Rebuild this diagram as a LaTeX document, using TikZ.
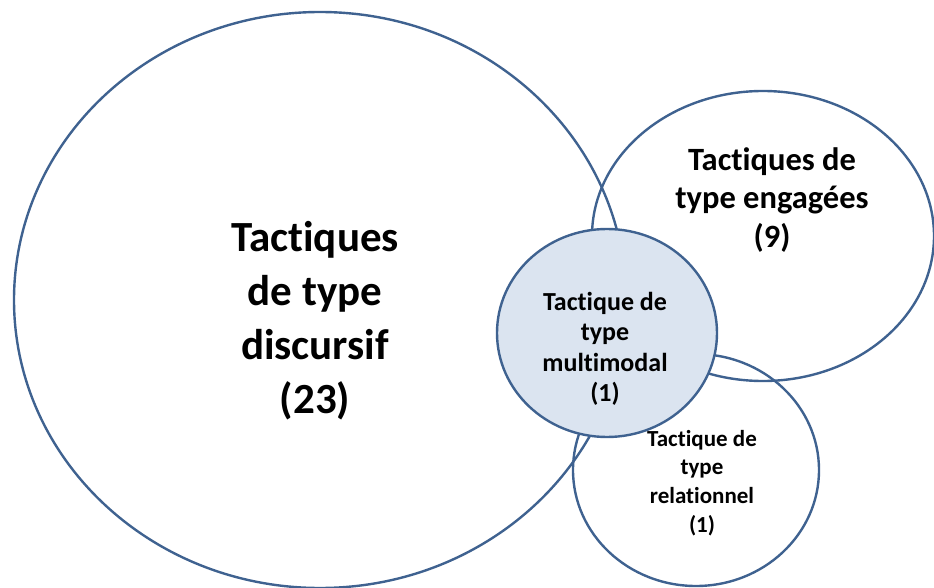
\documentclass[tikz,border=0pt]{standalone}
\usepackage{fontspec}
\setmainfont{Carlito}[RawFeature={-liga}]
\usetikzlibrary{shapes.geometric}
\definecolor{ringblue}{HTML}{3F6290}
\definecolor{coreblue}{HTML}{DBE4F0}
\tikzset{
  ring/.style={draw=ringblue, line width=2.4pt, ellipse, inner sep=0pt},
  label/.style={align=center, font=\bfseries, text=black, inner sep=0pt},
}
\begin{document}
\begin{tikzpicture}[x=1pt,y=-1pt]
\useasboundingbox (0,0) rectangle (934,588);
% outer sets
\node[ring, minimum width=612pt, minimum height=576pt] (discursif) at (320,300) {};
\node[ring, minimum width=342pt, minimum height=290pt] (engagees) at (763,236) {};
\node[ring, minimum width=246pt, minimum height=232pt] (relationnel) at (696,470) {};
% shared core
\node[ring, fill=coreblue, minimum width=220pt, minimum height=208pt] (multimodal) at (607,333) {};
% set labels
\node[label, font=\bfseries\fontsize{43}{54}\selectfont] (tdisc) at (315,321)
  {Tactiques\\de type\\discursif\\(23)};
\node[label, font=\bfseries\fontsize{32.5}{38.5}\selectfont] (teng) at (772,200)
  {Tactiques de\\type engagées\\(9)};
\node[label, font=\bfseries\fontsize{26}{30.5}\selectfont] (tmulti) at (605,349)
  {Tactique de\\type\\multimodal\\(1)};
\node[label, font=\bfseries\fontsize{23}{28.7}\selectfont] (trel) at (702,483)
  {Tactique de\\type\\relationnel\\(1)};
\end{tikzpicture}
\end{document}
